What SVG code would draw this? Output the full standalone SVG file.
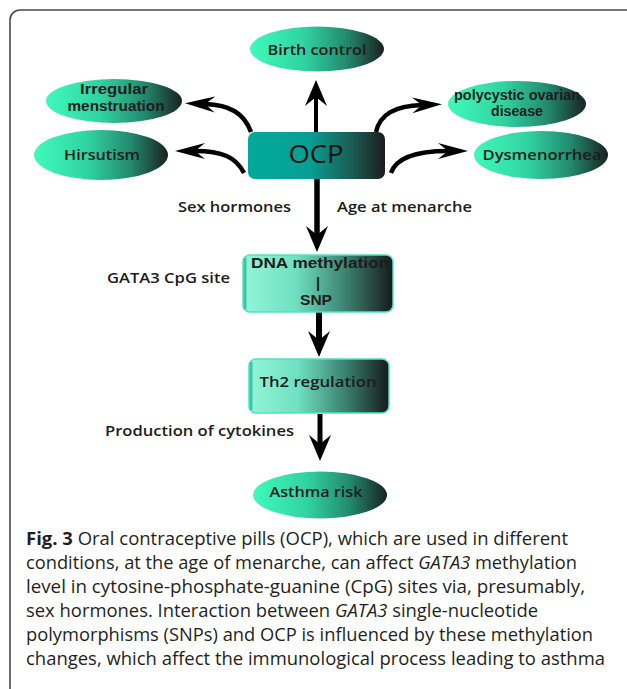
<svg xmlns="http://www.w3.org/2000/svg" width="627" height="689" viewBox="0 0 627 689">
<defs>
<linearGradient id="gE" x1="0" y1="0" x2="1" y2="0">
<stop offset="0" stop-color="#3ffabb"/>
<stop offset="0.4" stop-color="#31d3a1"/>
<stop offset="0.72" stop-color="#238a6f"/>
<stop offset="1" stop-color="#1a221f"/>
</linearGradient>
<linearGradient id="gB" x1="0" y1="0" x2="1" y2="0">
<stop offset="0" stop-color="#93f6d8"/>
<stop offset="0.35" stop-color="#6fe0c0"/>
<stop offset="0.7" stop-color="#3a7d6c"/>
<stop offset="1" stop-color="#161b1a"/>
</linearGradient>
<linearGradient id="gO" x1="0" y1="0" x2="1" y2="0">
<stop offset="0" stop-color="#02aa9c"/>
<stop offset="0.45" stop-color="#079f93"/>
<stop offset="0.75" stop-color="#1b5e57"/>
<stop offset="1" stop-color="#1c1d1d"/>
</linearGradient>
<marker id="hd" markerUnits="userSpaceOnUse" markerWidth="28" markerHeight="24" refX="9" refY="12" orient="auto" viewBox="0 0 28 24">
<path d="M0,1 L26,12 L0,23 L9,12 Z" fill="#000"/>
</marker>
<marker id="hc" markerUnits="userSpaceOnUse" markerWidth="30" markerHeight="18" refX="10" refY="9" orient="auto" viewBox="0 0 30 18">
<path d="M0,1 L30,9 L0,17 L10,9 Z" fill="#000"/>
</marker>
</defs>
<style>
.lbl{font-family:"Open Sans","Liberation Sans",sans-serif;font-weight:600;fill:#1c1c1c;font-size:15px}
.stk{font-family:"Liberation Sans",Arial,sans-serif;font-weight:700;fill:#1c1c1c;font-size:14.5px}
.side{font-family:"Open Sans","Liberation Sans",sans-serif;font-weight:600;fill:#1c1c1c;font-size:15px}
.cap{font-family:"Open Sans","Liberation Sans",sans-serif;fill:#231f20;font-size:17.5px}
.ell{fill:url(#gE)}
.box{fill:url(#gB);stroke:#4fe2c3;stroke-width:1.5}
.ar{fill:none;stroke:#000;marker-end:url(#hd)}
.ac{fill:none;stroke:#000;stroke-width:4.5;marker-end:url(#hc)}
</style>
<rect x="10" y="10" width="700" height="800" rx="10" fill="none" stroke="#4a4a4a" stroke-width="1.6"/>

<g id="connectors">
<path class="ar" d="M316,132 L316,97" stroke-width="4"/>
<path class="ar" d="M317,179 L317,235" stroke-width="5.5"/>
<path class="ar" d="M319,312 L319,340" stroke-width="6"/>
<path class="ar" d="M320,414 L320,444" stroke-width="5"/>
<path class="ac" d="M251,132 C244,113 230,105 205,104"/>
<path class="ac" d="M244,173 C236,157 222,151 195,151"/>
<path class="ac" d="M376,132 C380,114 395,106 422,105"/>
<path class="ac" d="M391,173 C396,158 415,151 448,151"/>
</g>

<g id="birth-control">
<ellipse class="ell" cx="317" cy="49" rx="67" ry="22.5"/>
<text class="lbl" x="317" y="55" text-anchor="middle" textLength="99" lengthAdjust="spacingAndGlyphs">Birth control</text>
</g>
<g id="irregular-menstruation">
<ellipse class="ell" cx="114" cy="101" rx="68" ry="22"/>
<text class="stk" x="114" y="94" text-anchor="middle" textLength="68" lengthAdjust="spacingAndGlyphs">Irregular</text>
<text class="stk" x="116" y="111" text-anchor="middle" textLength="97" lengthAdjust="spacingAndGlyphs">menstruation</text>
</g>
<g id="hirsutism">
<ellipse class="ell" cx="101" cy="155" rx="67" ry="25"/>
<text class="lbl" x="102" y="160" text-anchor="middle" textLength="76" lengthAdjust="spacingAndGlyphs">Hirsutism</text>
</g>
<g id="polycystic">
<ellipse class="ell" cx="517" cy="104" rx="69" ry="23"/>
<text class="stk" x="517" y="100" text-anchor="middle" font-size="13" textLength="126" lengthAdjust="spacingAndGlyphs">polycystic ovarian</text>
<text class="stk" x="517" y="116" text-anchor="middle" font-size="13" textLength="52" lengthAdjust="spacingAndGlyphs">disease</text>
</g>
<g id="dysmenorrhea">
<ellipse class="ell" cx="541" cy="155" rx="67" ry="24"/>
<text class="lbl" x="542" y="160" text-anchor="middle" textLength="119" lengthAdjust="spacingAndGlyphs">Dysmenorrhea</text>
</g>
<g id="ocp">
<rect x="248" y="132" width="137" height="47" rx="7" fill="url(#gO)"/>
<text x="316" y="163" text-anchor="middle" font-family="Open Sans, Liberation Sans, sans-serif" font-size="25" fill="#111" textLength="55" lengthAdjust="spacingAndGlyphs">OCP</text>
</g>
<g id="labels">
<text class="side" x="178" y="212" textLength="113" lengthAdjust="spacingAndGlyphs">Sex hormones</text>
<text class="side" x="337" y="212" textLength="135" lengthAdjust="spacingAndGlyphs">Age at menarche</text>
<text class="side" x="107" y="283" textLength="123" lengthAdjust="spacingAndGlyphs">GATA3 CpG site</text>
<text class="side" x="105" y="436" textLength="189" lengthAdjust="spacingAndGlyphs">Production of cytokines</text>
</g>
<g id="dna-methylation-snp">
<rect class="box" x="243" y="255" width="150" height="57" rx="7"/>
<rect x="243.5" y="258" width="3" height="51" fill="#3cc5a6"/>
<text class="stk" x="320" y="268" text-anchor="middle" font-size="15" textLength="138" lengthAdjust="spacingAndGlyphs">DNA methylation</text>
<text class="stk" x="318" y="288" text-anchor="middle" font-size="13">|</text>
<text class="stk" x="316" y="305" text-anchor="middle" font-size="14" textLength="32" lengthAdjust="spacingAndGlyphs">SNP</text>
</g>
<g id="th2-regulation">
<rect class="box" x="249" y="359" width="140" height="54" rx="7"/>
<rect x="249.5" y="362" width="3" height="48" fill="#3cc5a6"/>
<text class="lbl" x="318" y="387" text-anchor="middle" textLength="117" lengthAdjust="spacingAndGlyphs">Th2 regulation</text>
</g>
<g id="asthma-risk">
<ellipse class="ell" cx="320" cy="495" rx="67" ry="23.5"/>
<text class="lbl" x="316" y="497" text-anchor="middle" textLength="93" lengthAdjust="spacingAndGlyphs">Asthma risk</text>
</g>

<g id="caption">
<text class="cap" x="26" y="545" textLength="542" lengthAdjust="spacingAndGlyphs"><tspan font-weight="700">Fig. 3</tspan>  Oral contraceptive pills (OCP), which are used in different</text>
<text class="cap" x="26" y="569" textLength="551" lengthAdjust="spacingAndGlyphs">conditions, at the age of menarche, can affect <tspan font-style="italic">GATA3</tspan> methylation</text>
<text class="cap" x="26" y="593" textLength="559" lengthAdjust="spacingAndGlyphs">level in cytosine-phosphate-guanine (CpG) sites via, presumably,</text>
<text class="cap" x="26" y="617" textLength="512" lengthAdjust="spacingAndGlyphs">sex hormones. Interaction between <tspan font-style="italic">GATA3</tspan> single-nucleotide</text>
<text class="cap" x="26" y="641" textLength="567" lengthAdjust="spacingAndGlyphs">polymorphisms (SNPs) and OCP is influenced by these methylation</text>
<text class="cap" x="26" y="665" textLength="579" lengthAdjust="spacingAndGlyphs">changes, which affect the immunological process leading to asthma</text>
</g>
</svg>
